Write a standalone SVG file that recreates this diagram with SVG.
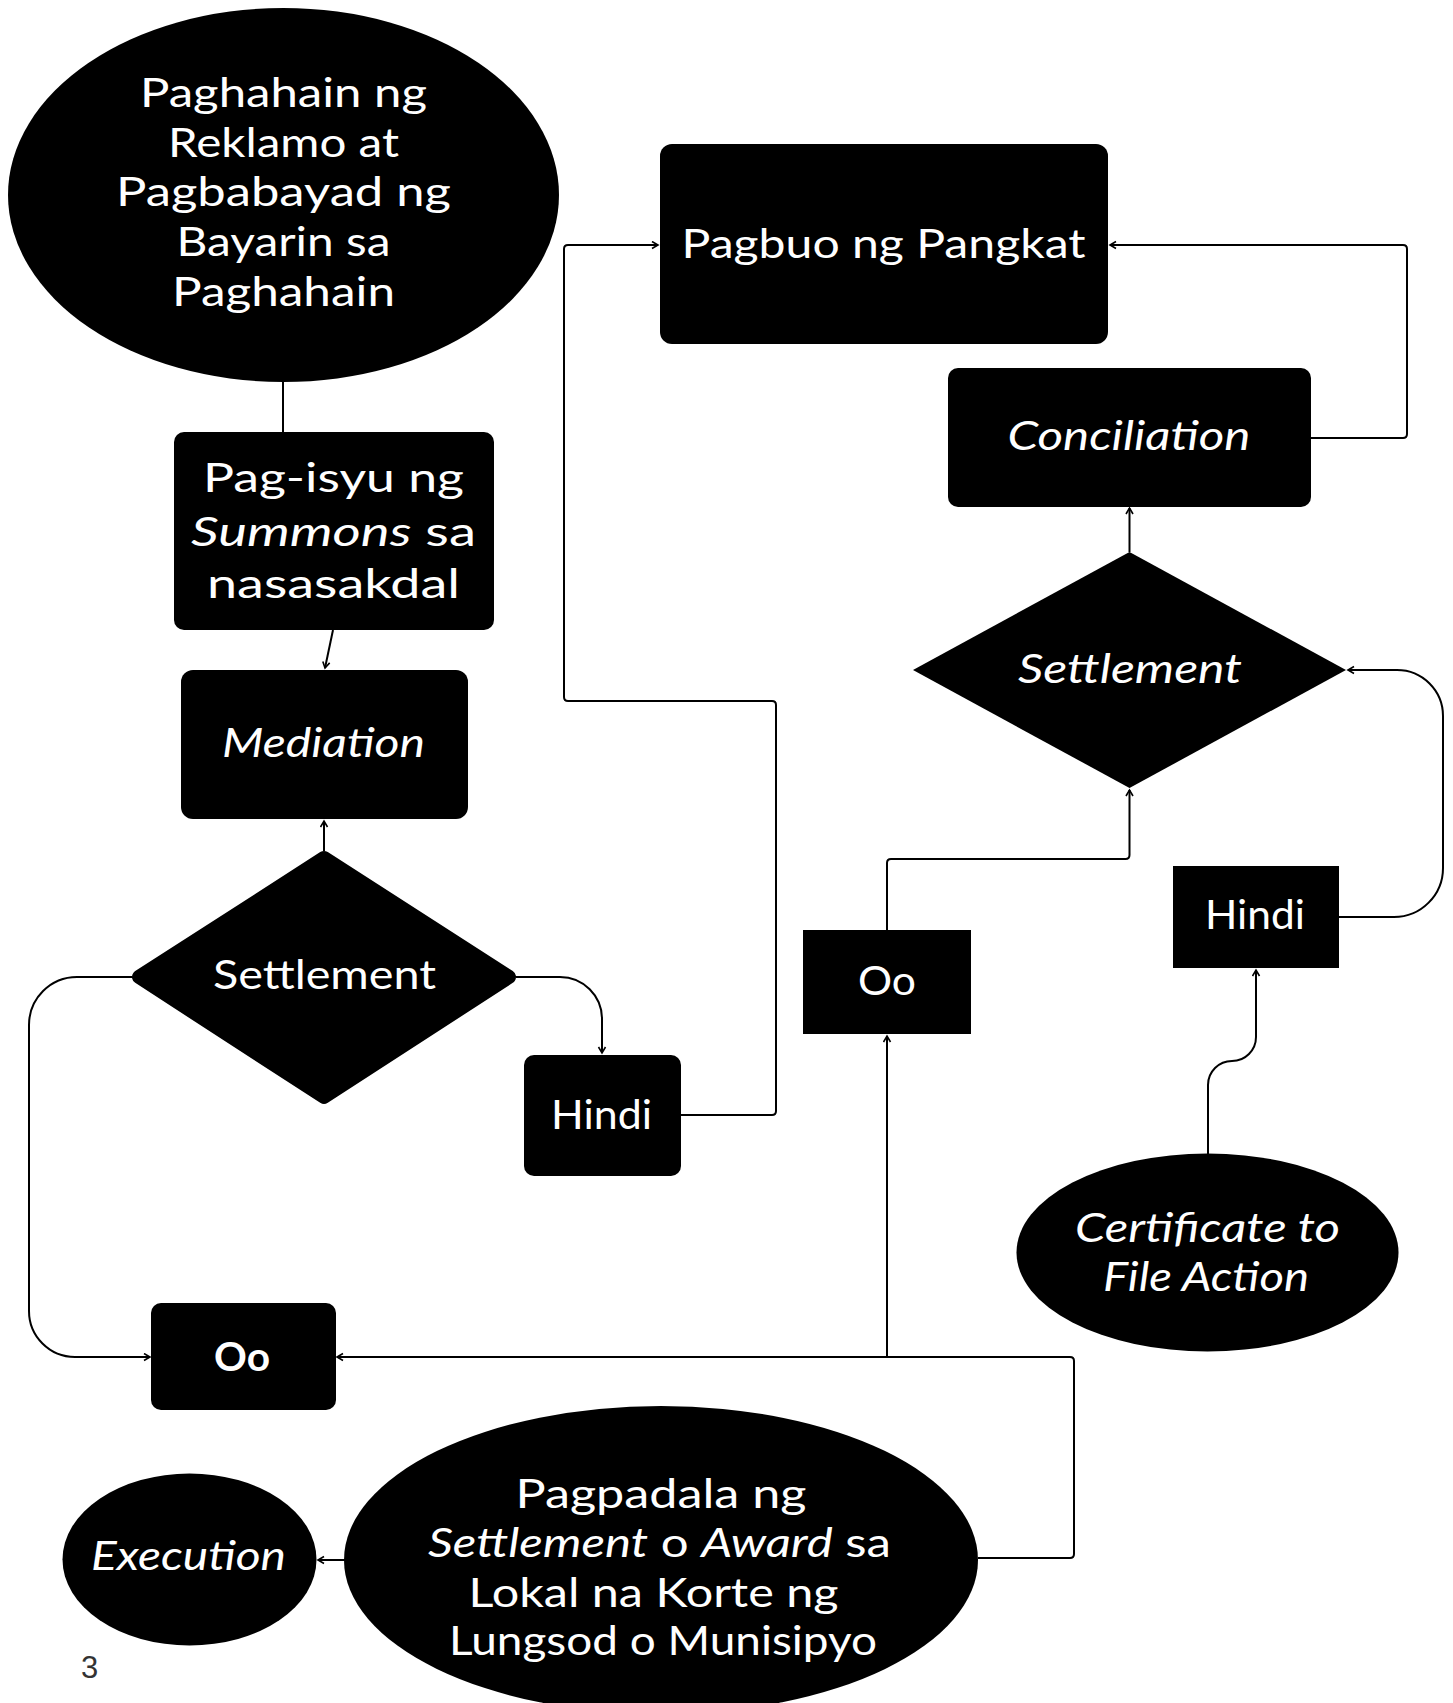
<svg xmlns="http://www.w3.org/2000/svg" width="1453" height="1703" viewBox="0 0 1453 1703">
<style>
.n{fill:#000}
.t{fill:#fff;font-family:Lato,"Open Sans","Liberation Sans",sans-serif;font-size:40px;text-anchor:middle}
.i{font-style:italic}
.c{fill:none;stroke:#000;stroke-width:2}
.a{marker-end:url(#ah)}
</style>
<defs>
<marker id="ah" markerUnits="userSpaceOnUse" markerWidth="10" markerHeight="10" refX="7" refY="4.5" orient="auto">
<path d="M1,1 L7,4.5 L1,8" fill="none" stroke="#000" stroke-width="1.6"/>
</marker>
</defs>
<rect width="1453" height="1703" fill="#fff"/>
<g id="connectors">
<path class="c" d="M283,382 L283,432"/>
<path class="c a" d="M333,630 L325,668"/>
<path class="c a" d="M324,851 L324,821"/>
<path class="c a" d="M516,977 L560,977 A42,42 0 0 1 602,1019 L602,1053"/>
<path class="c a" d="M132,977 L77,977 A48,48 0 0 0 29,1025 L29,1311 A46,46 0 0 0 75,1357 L150,1357"/>
<path class="c a" d="M681,1115 L772,1115 Q776,1115 776,1111 L776,705 Q776,701 772,701 L568,701 Q564,701 564,697 L564,249 Q564,245 568,245 L658,245"/>
<path class="c a" d="M1311,438 L1403,438 Q1407,438 1407,434 L1407,249 Q1407,245 1403,245 L1110,245"/>
<path class="c a" d="M1129.5,552 L1129.5,508"/>
<path class="c a" d="M887,930 L887,863 Q887,859 891,859 L1125.5,859 Q1129.5,859 1129.5,855 L1129.5,790"/>
<path class="c a" d="M1339,917 L1394,917 A49,49 0 0 0 1443,868 L1443,716 A46,46 0 0 0 1397,670 L1348,670"/>
<path class="c a" d="M1208,1154 L1208,1085 A24,24 0 0 1 1232,1061 A24,24 0 0 0 1256,1037 L1256,970"/>
<path class="c a" d="M978,1558 L1070,1558 Q1074,1558 1074,1554 L1074,1361 Q1074,1357 1070,1357 L337,1357"/>
<path class="c a" d="M887,1357 L887,1036"/>
<path class="c a" d="M345,1560 L318,1560"/>
</g>
<g id="paghahain">
<ellipse class="n" cx="283.5" cy="195" rx="275.5" ry="187"/>
<text class="t" font-size="38" x="283.5" y="107" textLength="287" lengthAdjust="spacingAndGlyphs">Paghahain ng</text>
<text class="t" font-size="38" x="283.5" y="157" textLength="231" lengthAdjust="spacingAndGlyphs">Reklamo at</text>
<text class="t" font-size="38" x="283.5" y="206" textLength="335" lengthAdjust="spacingAndGlyphs">Pagbabayad ng</text>
<text class="t" font-size="38" x="283.5" y="256" textLength="214" lengthAdjust="spacingAndGlyphs">Bayarin sa</text>
<text class="t" font-size="38" x="283.5" y="306" textLength="223" lengthAdjust="spacingAndGlyphs">Paghahain</text>
</g>
<g id="pagisyu">
<rect class="n" x="174" y="432" width="320" height="198" rx="10"/>
<text class="t" font-size="41" x="333.5" y="492" textLength="261" lengthAdjust="spacingAndGlyphs">Pag-isyu ng</text>
<text class="t" font-size="41" x="333.5" y="546" textLength="285" lengthAdjust="spacingAndGlyphs"><tspan class="i">Summons</tspan> sa</text>
<text class="t" font-size="41" x="333.5" y="598" textLength="253" lengthAdjust="spacingAndGlyphs">nasasakdal</text>
</g>
<g id="mediation">
<rect class="n" x="181" y="670" width="287" height="149" rx="12"/>
<text class="t i" font-size="41" x="323.5" y="757" textLength="203" lengthAdjust="spacingAndGlyphs">Mediation</text>
</g>
<g id="settlement1">
<polygon class="n" points="324,858 509,977 324,1097 139,977" stroke="#000" stroke-width="14" stroke-linejoin="round"/>
<text class="t" font-size="41" x="324.5" y="989" textLength="223" lengthAdjust="spacingAndGlyphs">Settlement</text>
</g>
<g id="hindi1">
<rect class="n" x="524" y="1055" width="157" height="121" rx="10"/>
<text class="t" font-size="42" x="601.5" y="1129" textLength="101" lengthAdjust="spacingAndGlyphs">Hindi</text>
</g>
<g id="pagbuo">
<rect class="n" x="660" y="144" width="448" height="200" rx="12"/>
<text class="t" font-size="41" x="883.5" y="257.5" textLength="404" lengthAdjust="spacingAndGlyphs">Pagbuo ng Pangkat</text>
</g>
<g id="conciliation">
<rect class="n" x="948" y="368" width="363" height="139" rx="10"/>
<text class="t i" font-size="41" x="1129" y="449.5" textLength="243" lengthAdjust="spacingAndGlyphs">Conciliation</text>
</g>
<g id="settlement2">
<polygon class="n" points="1129.5,552 1346,670 1129.5,788 913,670"/>
<text class="t i" font-size="41" x="1130" y="682.5" textLength="224" lengthAdjust="spacingAndGlyphs">Settlement</text>
</g>
<g id="oo2">
<rect class="n" x="803" y="930" width="168" height="104"/>
<text class="t" font-size="41" x="887" y="995" textLength="58" lengthAdjust="spacingAndGlyphs">Oo</text>
</g>
<g id="hindi2">
<rect class="n" x="1173" y="866" width="166" height="102"/>
<text class="t" font-size="42" x="1255" y="929" textLength="100" lengthAdjust="spacingAndGlyphs">Hindi</text>
</g>
<g id="certificate">
<ellipse class="n" cx="1207.5" cy="1252.5" rx="191" ry="99"/>
<text class="t i" font-size="40" x="1207.5" y="1241.5" textLength="265" lengthAdjust="spacingAndGlyphs">Certificate to</text>
<text class="t i" font-size="40" x="1206" y="1291" textLength="206" lengthAdjust="spacingAndGlyphs">File Action</text>
</g>
<g id="oo1">
<rect class="n" x="151" y="1303" width="185" height="107" rx="10"/>
<text class="t" font-size="40" font-weight="bold" x="242" y="1371" textLength="56" lengthAdjust="spacingAndGlyphs">Oo</text>
</g>
<g id="pagpadala">
<ellipse class="n" cx="661" cy="1560" rx="317" ry="154"/>
<text class="t" font-size="38" x="661" y="1508" textLength="291" lengthAdjust="spacingAndGlyphs">Pagpadala ng</text>
<text class="t" font-size="38" x="659.5" y="1557" textLength="463" lengthAdjust="spacingAndGlyphs"><tspan class="i">Settlement</tspan> o <tspan class="i">Award</tspan> sa</text>
<text class="t" font-size="38" x="653.5" y="1607" textLength="370" lengthAdjust="spacingAndGlyphs">Lokal na Korte ng</text>
<text class="t" font-size="38" x="663" y="1655" textLength="428" lengthAdjust="spacingAndGlyphs">Lungsod o Munisipyo</text>
</g>
<g id="execution">
<ellipse class="n" cx="189.5" cy="1559.5" rx="127" ry="86"/>
<text class="t i" font-size="38" x="188.5" y="1570" textLength="195" lengthAdjust="spacingAndGlyphs">Execution</text>
</g>
<text x="81" y="1678" font-family="Liberation Sans, Arial, sans-serif" font-size="31" fill="#333">3</text>
</svg>
